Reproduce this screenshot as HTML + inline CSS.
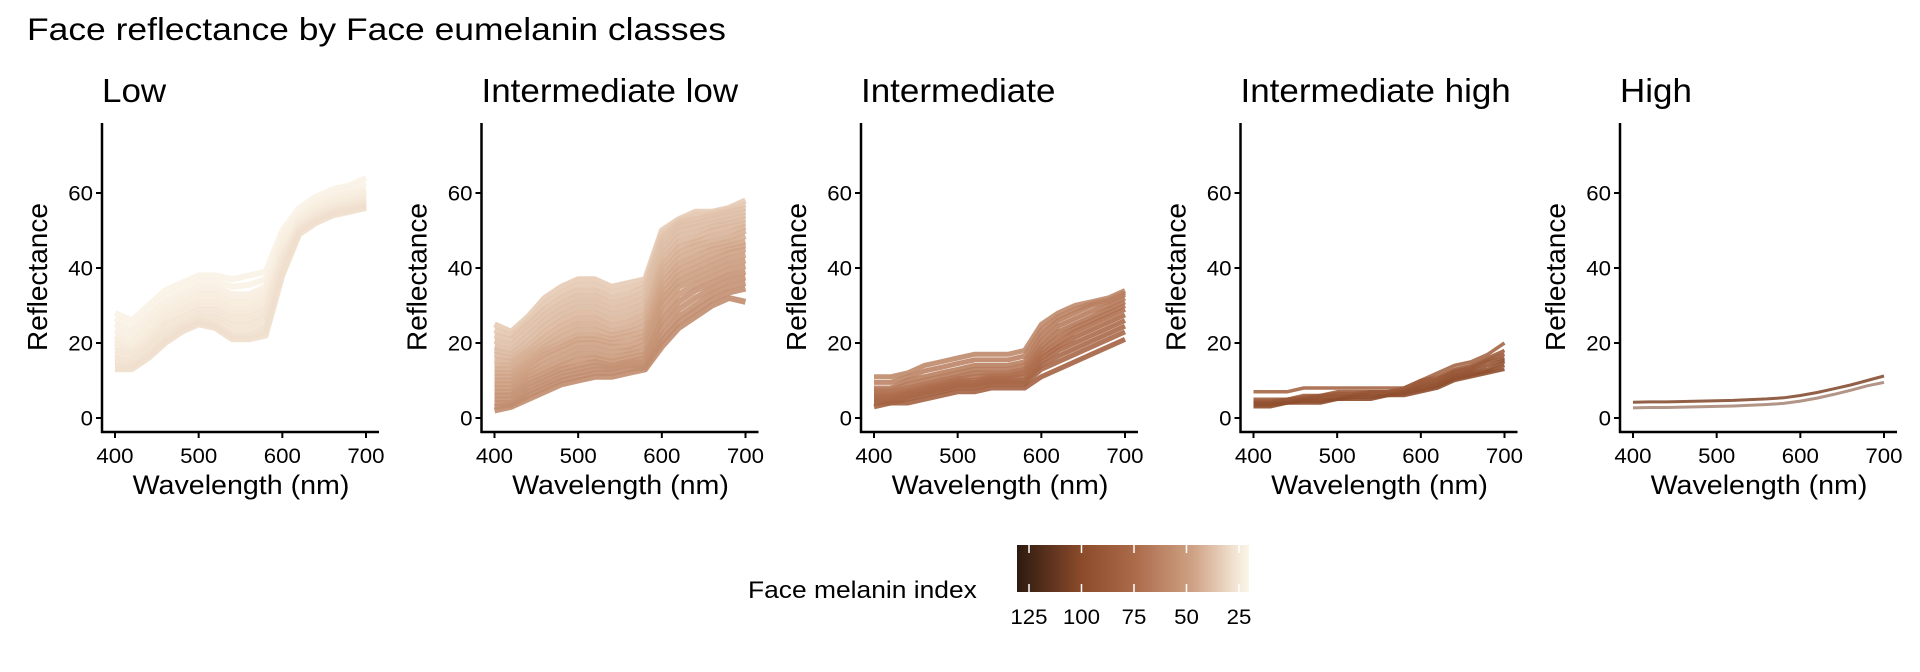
<!DOCTYPE html>
<html><head><meta charset="utf-8"><style>
html,body{margin:0;padding:0;background:#fff;width:1920px;height:672px;overflow:hidden}
svg{display:block;font-family:"Liberation Sans",Arial,sans-serif}
</style></head><body>
<svg id="chart" width="1920" height="672" viewBox="0 0 1920 672">
<defs><linearGradient id="cbar" x1="0" x2="1" y1="0" y2="0">
<stop offset="0" stop-color="#2d1a0f"/><stop offset="0.28" stop-color="#8c4b2b"/><stop offset="0.52" stop-color="#ad6d4d"/><stop offset="0.76" stop-color="#cfa285"/><stop offset="0.95" stop-color="#f4e7d7"/><stop offset="1" stop-color="#fbf5e9"/></linearGradient></defs>
</svg>
<script>
const wavelengths=[400,420,440,460,480,500,520,540,560,580,600,620,640,660,680,700];
const panelTitles=["Low","Intermediate low","Intermediate","Intermediate high","High"];
const xTicks=[400,500,600,700];
const yTicks=[0,20,40,60];
const legendTicks=[125,100,75,50,25];
const melLow=[21,21,22,22,23,23,24,24,25,25,26,26,27,27,28];
const reflLow=[
[28,26,30,34,36,38,38,37,38,39,50,56,59,61,62,64],
[26.5,24.5,28.5,32.5,34.5,36.5,36.5,35,35.5,37,49,55,58,60,61,62.5],
[25,23,27,31,33,35,35,33,33,35,48,54,57,59,60,61],
[23.5,21.5,26,30,32,34,34,32,32,34,47,53.5,56.5,58.5,59.5,60.5],
[22,20,25,29,31,33,33,31,31,33,46,53,56,58,59,60],
[21,19,23.5,28,30,32,32,30,30,32,45,52.5,55.5,57.5,58.5,59.5],
[20,18,22,27,29,31,31,29,29,31,44,52,55,57,58,59],
[19,17.5,21,26,28,30,30,28,28,30,43.5,51.5,54.5,56.5,57.5,58.5],
[18,17,20,25,27,29,29,27,27,29,43,51,54,56,57,58],
[17,16,19.5,24,26,28,28,26,26,28,42,50.5,53.5,55.5,56.5,57.5],
[16,15,19,23,25,27,27,25,25,27,41,50,53,55,56,57],
[15,14.5,18,22,24.5,26.5,26,23.5,23.5,25.5,40.5,50,53,55,56,57],
[14,14,17,21,24,26,25,22,22,24,40,50,53,55,56,57],
[13.5,13.5,16.5,20.5,23.5,25.5,24.5,21.5,21.5,23,39,49.5,52.5,54.5,55.5,56.5],
[13,13,16,20,23,25,24,21,21,22,38,49,52,54,55,56]];
const melIntLow=[35,36,38,39,40,41,42,44,45,46,48,49,50,52,53,54,56,57,58,59,60];
const reflIntLow=[
[25,23,27,32,35,37,37,35,36,37,50,53,55,55,56,58],
[23.5,22,26,30.5,33.5,35.5,35.5,33.5,34.5,36,49,52.5,54,54.5,55.5,57],
[22,21,25,29,32,34,34,32,33,35,48,52,53,54,55,56],
[20.5,19.5,23.5,27.5,30.5,32.5,32.5,30.5,31.5,33.5,46.5,51,52,53,54,55],
[19,18,22,26,29,31,31,29,30,32,45,50,51,52,53,54],
[18,17,20.5,24.5,27.5,29.5,29.5,27.5,28.5,30.5,43.5,48.5,49.5,51,52,53],
[17,16,19,23,26,28,28,26,27,29,42,47,48,50,51,52],
[15.5,15,18,21.5,24.5,26.5,26.5,24.5,25.5,27.5,40.5,45.5,47,48.5,49.5,51],
[14,14,17,20,23,25,25,23,24,26,39,44,46,47,48,50],
[13,13,16,19,21.5,23.5,23.5,22,23,24.5,37.5,42.5,44.5,46,47,48.5],
[12,12,15,18,20,22,22,21,22,23,36,41,43,45,46,47],
[11,11,14,17,19,21,21,20,20.5,22,34.5,39.5,41.5,43.5,45,46],
[10,10,13,16,18,20,20,19,19,21,33,38,40,42,44,45],
[9,9,12,14.5,16.5,18.5,18.5,17.5,18,19.5,31.5,36.5,38.5,40.5,42.5,43.5],
[8,8,11,13,15,17,17,16,17,18,30,35,37,39,41,42],
[7,7,10,12,14,15.5,16,15,16,17,28,33,35.5,37.5,39.5,40.5],
[6,6,9,11,13,14,15,14,15,16,26,31,34,36,38,39],
[5,5,8,10,12,13,14,13.5,14.5,15,24,29,32,34.5,36.5,37.5],
[4,4,7,9,11,12,13,13,14,14,22,27,30,33,35,36],
[3,3.5,6,8,10,11,12,12,13,13.5,20.5,25.5,28.5,31.5,33.5,34.5],
[2,3,5,7,9,10,11,11,12,13,19,24,27,30,32,31]];
const melInt=[62,64,66,68,70,71,73,75,76,78,79,82];
const reflInt=[
[11,11,12,14,15,16,17,17,17,18,25,28,30,31,32,34],
[9.5,9.5,11,12.5,13.5,14.5,15.5,15.5,15.5,16.5,23.5,27,29,30.5,31.5,33.5],
[8,8,10,11,12,13,14,14,14,15,22,26,28,30,31,33],
[7.5,7.5,9,10,11,12,13,13,13,14,20.5,24.5,26.5,28.5,30,32],
[7,7,8,9,10,11,12,12,12,13,19,23,25,27,29,31],
[6.5,6.5,7.5,8.5,9.5,10.5,11,11.5,11.5,12.5,18,21.5,24,26,28,30],
[6,6,7,8,9,10,10,11,11,12,17,20,23,25,27,29],
[5.5,5.5,6.5,7.5,8.5,9.5,9.5,10.5,10.5,11,16,19,21.5,23.5,25.5,27.5],
[5,5,6,7,8,9,9,10,10,10,15,18,20,22,24,26],
[4.5,4.5,5.5,6.5,7.5,8.5,8.5,9.5,9.5,9.5,14,16.5,18.5,20.5,22.5,24.5],
[4,4,5,6,7,8,8,9,9,9,13,15,17,19,21,23],
[3,4,4,5,6,7,7,8,8,8,11,13,15,17,19,21]];
const melIntHigh=[80,86,88,90,92,94,96,98];
const reflIntHigh=[
[7,7,7,8,8,8,8,8,8,8,10,12,14,15,17,20],
[5,5,5,6,6,7,7,7,7,8,10,11,13,14,16,18],
[4.5,4.5,5,5.5,6,6.5,6.5,7,7,7.5,9.5,10.5,12.5,13.5,15.5,17],
[4,4,5,5,6,6,6,7,7,7,9,10,12,13,15,16],
[4,4,4.5,5,5.5,5.5,6,6.5,6.5,7,8.5,9.5,11.5,12.5,14,15.5],
[4,4,4,5,5,5,6,6,6,7,8,9,11,12,13,15],
[3.5,3.5,4,4.5,4.5,5,5.5,5.5,6,6.5,7.5,8.5,10.5,11.5,12.5,14],
[3,3,4,4,4,5,5,5,6,6,7,8,10,11,12,13]];
const melHigh=[104,68];
const reflHigh=[
[4.2,4.3,4.3,4.4,4.5,4.6,4.7,4.9,5.1,5.4,6,6.8,7.8,8.8,10,11.2],
[2.7,2.8,2.8,2.9,3,3.1,3.2,3.4,3.6,3.9,4.5,5.3,6.3,7.4,8.6,9.5]];
const panelMel=[melLow,melIntLow,melInt,melIntHigh,melHigh];
const panelRefl=[reflLow,reflIntLow,reflInt,reflIntHigh,reflHigh];

const NS="http://www.w3.org/2000/svg";
const svg=document.getElementById('chart');
function el(tag,attrs,parent){const e=document.createElementNS(NS,tag);for(const k in attrs)e.setAttribute(k,attrs[k]);(parent||svg).appendChild(e);return e;}
const SX=1.06;
function txt(x,y,s,size,anchor,parent,sx){
  const t=el('text',{x:0,y:0,'font-size':size,'text-anchor':anchor||'start',fill:'#000',transform:`translate(${x},${y}) scale(${sx||SX},1)`},parent);
  t.textContent=s;return t;}
const stops=[[130,[45,26,15]],[100,[140,75,43]],[75,[173,109,77]],[50,[207,162,133]],[25,[244,231,215]],[20,[251,245,233]]];
function melColor(v){
  for(let i=0;i<stops.length-1;i++){const a=stops[i],b=stops[i+1];
    if(v<=a[0]&&v>=b[0]){const t=(a[0]-v)/(a[0]-b[0]);const c=a[1].map((q,j)=>Math.round(q+(b[1][j]-q)*t));return `rgb(${c})`;}}
  return v>130?'rgb(45,26,15)':'rgb(251,245,233)';}

const title=txt(27,40,"Face reflectance by Face eumelanin classes",31.5,'start',null,1.125);



const yPix=v=>418-v*3.75;
for(let p=0;p<5;p++){
  const ax=102+p*379.5;
  const xPix=w=>ax+13+(w-400)*(251/300);
  const g=el('g',{});
  
  
  const pt=txt(ax,102,panelTitles[p],33,'start',g);
  
  
  const lg=el('g',{},g);
  
  
  const mels=panelMel[p],refl=panelRefl[p];
  const sw=[6,6,5,3.5,3][p];
  refl.forEach((row,i)=>{
    const d=row.map((v,j)=>(j?'L':'M')+xPix(wavelengths[j]).toFixed(1)+','+yPix(v).toFixed(1)).join(' ');
    const col=(p===4&&i===1)?'#a58272':melColor(mels[i]);
    const path=el('path',{d:d,fill:'none',stroke:col,'stroke-width':sw,'stroke-opacity':p===4?0.85:0.9,'stroke-linejoin':'round'},lg);
    
    
  });
  const ya=el('line',{x1:ax,y1:123,x2:ax,y2:433,stroke:'#000','stroke-width':2.5},g);
  
  
  const xa=el('line',{x1:ax-1,y1:432,x2:ax+277,y2:432,stroke:'#000','stroke-width':2.5},g);
  
  
  yTicks.forEach(v=>{
    el('line',{x1:ax-6,y1:yPix(v),x2:ax,y2:yPix(v),stroke:'#000','stroke-width':2},g);
    const t=txt(ax-9,yPix(v)+7.5,String(v),21,'end',g);
    
    
  });
  xTicks.forEach(v=>{
    el('line',{x1:xPix(v),y1:432,x2:xPix(v),y2:438,stroke:'#000','stroke-width':2},g);
    const t=txt(xPix(v),463,String(v),21,'middle',g);
    
    
  });
  const xt=txt(ax+139,494,"Wavelength (nm)",27,'middle',g);
  
  
  const yt=el('text',{x:0,y:0,'font-size':28,'text-anchor':'middle',fill:'#000',transform:`translate(${ax-55},277) rotate(-90)`},g);
  yt.textContent="Reflectance";
  
  
}
const lgd=el('g',{});


const lt=txt(748,598,"Face melanin index",24,'start',lgd,1.1);


const bar=el('rect',{x:1017,y:545,width:232,height:47,fill:'url(#cbar)'},lgd);


const lx=v=>1029+(125-v)*2.1;
legendTicks.forEach(v=>{
  el('line',{x1:lx(v),y1:545,x2:lx(v),y2:553,stroke:'#fff','stroke-width':1.5},lgd);
  el('line',{x1:lx(v),y1:584,x2:lx(v),y2:592,stroke:'#fff','stroke-width':1.5},lgd);
  const t=txt(lx(v),624,String(v),21,'middle',lgd);
  
  
});
</script>
</body></html>
